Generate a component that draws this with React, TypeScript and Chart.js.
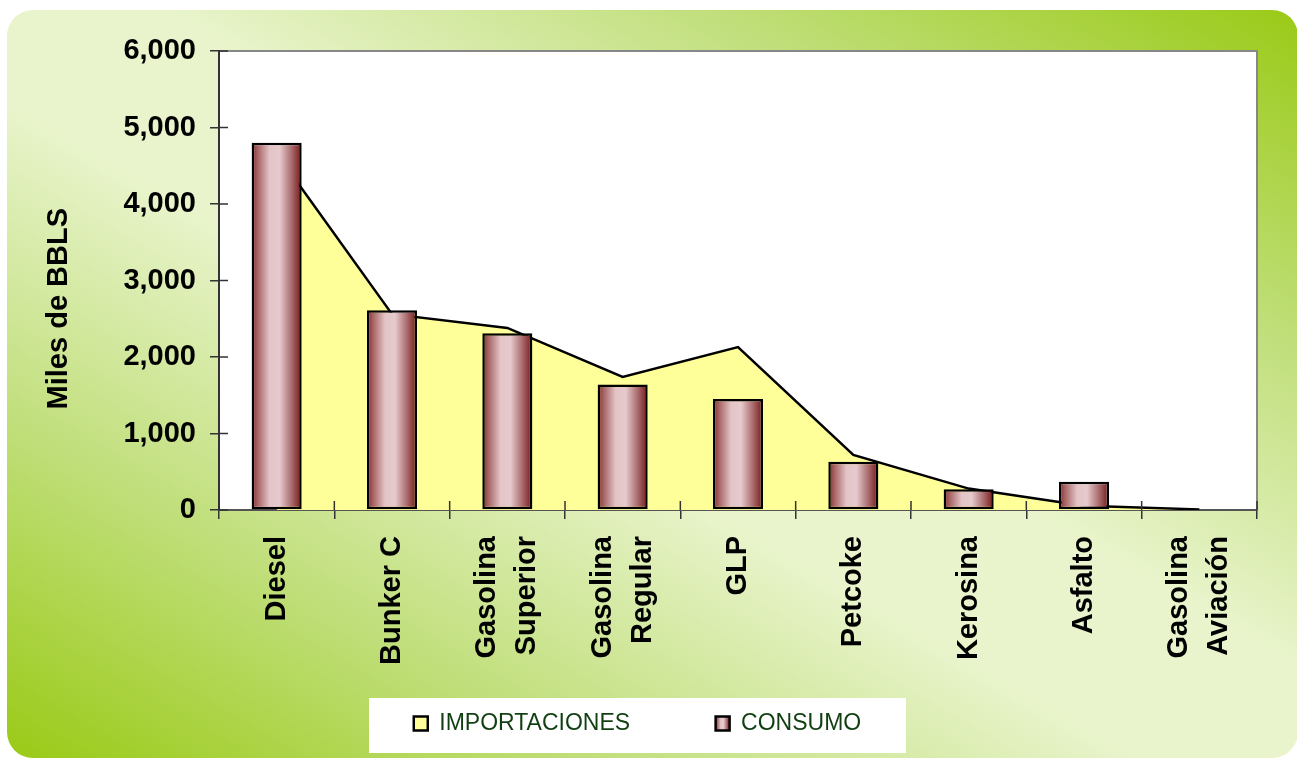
import React, { useEffect, useRef } from 'react';
import Chart from 'chart.js/auto';

// ---- data ----
const categories: (string | string[])[] = [
  'Diesel',
  'Bunker C',
  ['Gasolina', 'Superior'],
  ['Gasolina', 'Regular'],
  'GLP',
  'Petcoke',
  'Kerosina',
  'Asfalto',
  ['Gasolina', 'Aviación'],
];
const importaciones = [4660, 2560, 2380, 1740, 2130, 720, 280, 55, 8];
const consumo = [4800, 2610, 2310, 1640, 1450, 630, 270, 370, 0];
const seriesNames = ['IMPORTACIONES', 'CONSUMO'];
const yTitle = 'Miles de BBLS';
const yMin = 0;
const yMax = 6000;
const yStep = 1000;

// ---- style ----
const FONT = 'Arial, "Liberation Sans", Helvetica, sans-serif';
const W = 1297;
const H = 759;
const BAR_PCT = 0.434;
const LABEL_PITCH = 40;
const LEG_PAD = 85.5;
const LEG_SHIFT = -10;
const LEG_BOX = 14;

function barGradient(ctx: CanvasRenderingContext2D, x0: number, x1: number) {
  const g = ctx.createLinearGradient(x0, 0, x1, 0);
  g.addColorStop(0, '#7e2a2a');
  g.addColorStop(0.12, '#a66364');
  g.addColorStop(0.36, '#e3c4c7');
  g.addColorStop(0.56, '#e6cacd');
  g.addColorStop(0.8, '#a96b6d');
  g.addColorStop(1, '#741616');
  return g;
}

export default function App() {
  const ref = useRef<HTMLCanvasElement>(null);

  useEffect(() => {
    const canvas = ref.current;
    if (!canvas) return;

    const deco = {
      id: 'deco',
      afterLayout(chart: any) {
        const lg = chart.legend;
        if (lg) {
          lg.left += LEG_SHIFT;
          lg.right += LEG_SHIFT;
        }
        // let the rotated category labels run below the axis box without being clipped
        const xs = chart.scales.x;
        if (xs) {
          xs.bottom += 70;
          xs.height += 70;
        }
      },
      beforeDraw(chart: any) {
        const { ctx, chartArea: ca } = chart;
        ctx.save();
        ctx.fillStyle = '#ffffff';
        ctx.fillRect(0, 0, W, H);
        // rounded gradient panel
        const rx = 7, ry = 10, rw = 1291, rh = 748, r = 26;
        const cx = rx + rw / 2, cy = ry + rh / 2;
        const len = Math.hypot(rw, rh);
        const dx = rh / len, dy = -rw / len; // perpendicular to TL-BR diagonal
        const half = (rw * rh) / len;
        const g = ctx.createLinearGradient(cx - dx * half, cy - dy * half, cx + dx * half, cy + dy * half);
        g.addColorStop(0, '#9aca16');
        g.addColorStop(0.22, '#bfde78');
        g.addColorStop(0.44, '#e9f4cc');
        g.addColorStop(0.56, '#e9f4cc');
        g.addColorStop(0.78, '#bfde78');
        g.addColorStop(1, '#9aca16');
        ctx.beginPath();
        ctx.roundRect(rx, ry, rw, rh, r);
        ctx.fillStyle = g;
        ctx.fill();
        // plot area
        ctx.fillStyle = '#ffffff';
        ctx.fillRect(ca.left, ca.top, ca.right - ca.left, ca.bottom - ca.top);
        ctx.strokeStyle = '#878787';
        ctx.lineWidth = 2;
        ctx.strokeRect(ca.left, ca.top, ca.right - ca.left, ca.bottom - ca.top);
        // legend box
        const lg = chart.legend;
        if (lg) {
          const mid = (lg.left + lg.right) / 2;
          const rowY = lg.top + LEG_PAD;
          ctx.fillStyle = '#ffffff';
          ctx.fillRect(mid - 268.5, rowY - 14, 537, 55);
          const items = lg.legendItems || [];
          const boxes = lg.legendHitBoxes || [];
          items.forEach((it: any, i: number) => {
            if (it.datasetIndex === 1 && boxes[i]) {
              it.fillStyle = barGradient(ctx, boxes[i].left, boxes[i].left + LEG_BOX);
            }
          });
        }
        ctx.restore();
      },
      afterDatasetsDraw(chart: any) {
        const { ctx, chartArea: ca, scales } = chart;
        ctx.save();
        ctx.strokeStyle = '#333';
        ctx.lineWidth = 1.5;
        ctx.beginPath();
        scales.y.ticks.forEach((t: any) => {
          const y = scales.y.getPixelForValue(t.value);
          ctx.moveTo(ca.left, y);
          ctx.lineTo(ca.left + 9, y);
        });
        for (let i = 0; i <= categories.length; i++) {
          const x = scales.x.getPixelForValue(i - 0.5);
          ctx.moveTo(x, ca.bottom);
          ctx.lineTo(x, ca.bottom - 9);
        }
        ctx.stroke();
        ctx.restore();
      },
    };

    const barFill = (c: any) => {
      const chart = c.chart;
      const xs = chart.scales && chart.scales.x;
      if (!xs || c.dataIndex === undefined || !chart.chartArea) return '#c99a9e';
      const cx = xs.getPixelForValue(c.dataIndex);
      const w = (xs.width / categories.length) * BAR_PCT;
      return barGradient(chart.ctx, cx - w / 2, cx + w / 2);
    };

    const chart = new Chart(canvas, {
      type: 'bar',
      data: {
        labels: categories as any,
        datasets: [
          {
            type: 'line',
            label: seriesNames[0],
            data: importaciones,
            fill: 'origin',
            backgroundColor: '#ffff99',
            borderColor: '#000000',
            borderWidth: 2.5,
            borderJoinStyle: 'miter',
            pointRadius: 0,
            tension: 0,
            order: 2,
          } as any,
          {
            type: 'bar',
            label: seriesNames[1],
            data: consumo,
            backgroundColor: barFill,
            borderColor: '#000000',
            borderWidth: 2.5,
            borderSkipped: false,
            barPercentage: BAR_PCT,
            categoryPercentage: 1,
            order: 1,
          } as any,
        ],
      },
      options: {
        responsive: false,
        animation: false,
        devicePixelRatio: 1,
        events: [],
        layout: { padding: { left: 38, right: 40, top: 51, bottom: 14 } },
        plugins: {
          legend: {
            position: 'bottom',
            labels: {
              boxWidth: LEG_BOX,
              boxHeight: LEG_BOX,
              padding: LEG_PAD,
              color: '#123f12',
              font: { family: FONT, size: 23 },
              sort: (a: any, b: any) => a.datasetIndex - b.datasetIndex,
            },
          },
          tooltip: { enabled: false },
        },
        scales: {
          x: {
            offset: true,
            grid: {
              offset: true,
              drawOnChartArea: false,
              drawTicks: true,
              tickLength: 9,
              color: '#333',
              lineWidth: 1.5,
            },
            border: { display: true, color: '#555', width: 2 },
            ticks: {
              autoSkip: false,
              minRotation: 90,
              maxRotation: 90,
              padding: 17,
              labelOffset: -LABEL_PITCH / 2,
              color: '#000',
              font: { family: FONT, size: 29, weight: 'bold', lineHeight: `${LABEL_PITCH / 2}px` },
              callback: (_v: any, i: number) => {
                const c = categories[i];
                return Array.isArray(c) ? [c[0], '', c[1]] : ['', c];
              },
            },
            afterFit: (s: any) => {
              s.height = 116.5;
            },
          },
          y: {
            min: yMin,
            max: yMax,
            grid: { drawOnChartArea: false, drawTicks: true, tickLength: 9, color: '#333', lineWidth: 1.5 },
            border: { display: true, color: '#333', width: 2 },
            ticks: {
              stepSize: yStep,
              padding: 14,
              color: '#000',
              font: { family: FONT, size: 29, weight: 'bold' },
              callback: (v: any) => Number(v).toLocaleString('en-US'),
            },
            title: {
              display: true,
              text: yTitle + '       ',
              color: '#000',
              font: { family: FONT, size: 29, weight: 'bold' },
              padding: { top: 4, bottom: 4 },
            },
            afterFit: (s: any) => {
              s.width = 181;
            },
          },
        },
      } as any,
      plugins: [deco],
    });

    return () => chart.destroy();
  }, []);

  return (
    <div style={{ position: 'fixed', left: 0, top: 0, width: W, height: H, background: '#fff' }}>
      <canvas ref={ref} width={W} height={H} style={{ display: 'block', width: W, height: H }} />
    </div>
  );
}
